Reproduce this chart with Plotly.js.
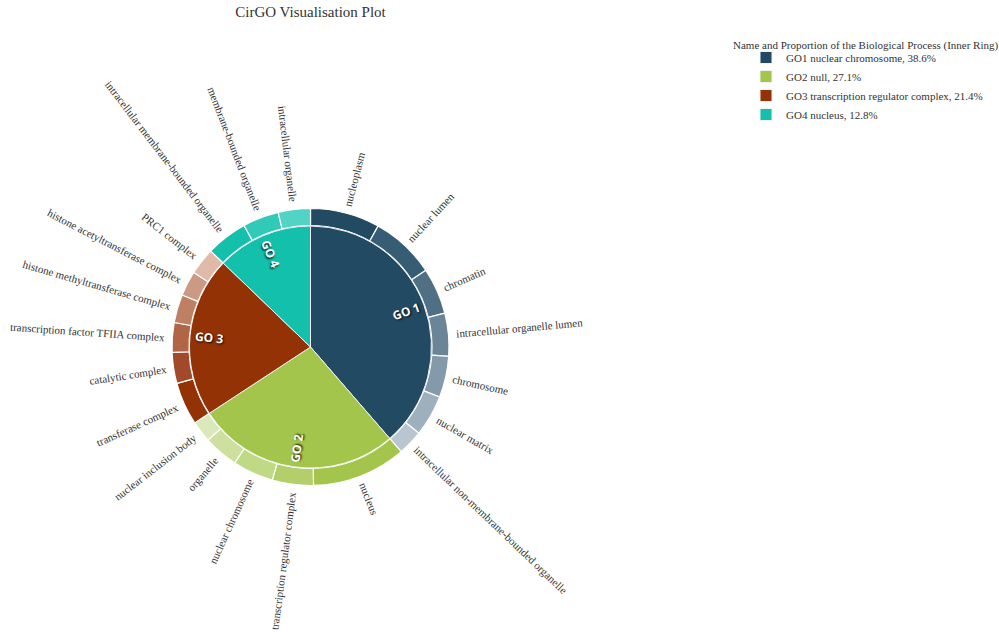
<!DOCTYPE html>
<html><head><meta charset="utf-8">
<script src="https://cdn.plot.ly/plotly-3.0.1.min.js"></script>
<style>html,body{margin:0;padding:0;background:#fff}#chart{width:999px;height:632px}</style>
</head><body><div id="chart"></div>
<script>
// ---------- data ----------
const goIds = ['GO 1', 'GO 2', 'GO 3', 'GO 4'];
const goKeys = ['GO1', 'GO2', 'GO3', 'GO4'];
const goNames = ['nuclear chromosome', 'null', 'transcription regulator complex', 'nucleus'];
const goPercents = [38.6, 27.1, 21.4, 12.8];

const childLabels = [
  'nucleoplasm', 'nuclear lumen', 'chromatin', 'intracellular organelle lumen', 'chromosome', 'nuclear matrix', 'intracellular non-membrane-bounded organelle',
  'nucleus', 'transcription regulator complex', 'nuclear chromosome', 'organelle', 'nuclear inclusion body',
  'transferase complex', 'catalytic complex', 'transcription factor TFIIA complex', 'histone methyltransferase complex', 'histone acetyltransferase complex', 'PRC1 complex',
  'intracellular membrane-bounded organelle', 'membrane-bounded organelle', 'intracellular organelle'
];
const childValues = [
  8.1, 7.55, 5.4, 5.0, 4.8, 4.8, 2.95,
  11.0, 4.8, 4.75, 4.05, 2.5,
  5.0, 3.6, 3.45, 3.3, 2.9, 3.15,
  4.85, 4.2, 3.75
];

// ---------- styles ----------
const goColors = ['#234a63', '#a3c54b', '#933204', '#13c0ac'];
const childColors = [
  '#234a63', '#365d74', '#4f7084', '#6a8597', '#8499aa', '#9eb0bd', '#b9c6d0',
  '#a3c54b', '#b3cf6c', '#c0d985', '#cde09f', '#dbe8bb',
  '#933204', '#a1492a', '#b06546', '#bf7f62', '#cc9a84', '#dfbaa9',
  '#14c0ac', '#31c9b7', '#52d4c5'
];

const W = 999, H = 632;
const CX = 310.5, CY = 347;     // pie centre (px)
const R_OUT = 138.5, R_IN = 121, R_HOLE = 121.5, R_LABEL = 146, R_GO = 102;

function dom(r) {
  return {
    x: [(CX - r) / W, (CX + r) / W],
    y: [1 - (CY + r) / H, 1 - (CY - r) / H]
  };
}

const legendLabels = goKeys.map((k, i) => `${k} ${goNames[i]}, ${goPercents[i]}%`);

const outer = {
  type: 'pie',
  values: childValues,
  labels: childLabels,
  sort: false,
  direction: 'clockwise',
  rotation: 0,
  hole: R_HOLE / R_OUT,
  domain: dom(R_OUT),
  marker: { colors: childColors, line: { color: '#ffffff', width: 1.2 } },
  textinfo: 'none',
  showlegend: false,
  hoverinfo: 'label+percent'
};

const inner = {
  type: 'pie',
  values: goPercents,
  labels: legendLabels,
  text: goIds,
  textinfo: 'none',
  sort: false,
  direction: 'clockwise',
  rotation: 0,
  domain: dom(R_IN),
  marker: { colors: goColors, line: { color: '#f2f2f2', width: 1 } },
  showlegend: true,
  hoverinfo: 'label'
};

function toPaper(r, deg) {
  const t = deg * Math.PI / 180;
  return { x: (CX + r * Math.sin(t)) / W, y: 1 - (CY - r * Math.cos(t)) / H };
}
function radialAngle(deg) { return deg < 180 ? deg - 90 : deg - 270; }

const annotations = [];

// inner ring labels (GO n), radial
const goTotal = goPercents.reduce((a, b) => a + b, 0);
let gcum = 0;
goPercents.forEach((v, i) => {
  const mid = (gcum + v / 2) / goTotal * 360;
  gcum += v;
  const p = toPaper(R_GO, mid);
  annotations.push({
    xref: 'paper', yref: 'paper', x: p.x, y: p.y,
    xanchor: 'center', yanchor: 'middle',
    text: goIds[i], textangle: radialAngle(mid), showarrow: false,
    font: { family: 'Open Sans, sans-serif', size: 12, color: '#ffffff', weight: 'bold',
            shadow: '1px 1px 2px rgba(0,0,0,0.9)' }
  });
});

// outer ring labels, radial
const cnv = document.createElement('canvas').getContext('2d');
const LABEL_FONT = 11;
cnv.font = LABEL_FONT + "px 'Liberation Serif'";
const total = childValues.reduce((a, b) => a + b, 0);
let cum = 0;
childValues.forEach((v, i) => {
  const mid = (cum + v / 2) / total * 360;
  cum += v;
  const w = cnv.measureText(childLabels[i]).width;
  const p = toPaper(R_LABEL + w / 2, mid);
  annotations.push({
    xref: 'paper', yref: 'paper', x: p.x, y: p.y,
    xanchor: 'center', yanchor: 'middle',
    text: childLabels[i], textangle: radialAngle(mid), showarrow: false,
    font: { family: 'Liberation Serif, serif', size: LABEL_FONT, color: '#333333' }
  });
});

// legend heading
annotations.push({
  xref: 'paper', yref: 'paper',
  x: 731 / W, y: 1 - 45 / H,
  xanchor: 'left', yanchor: 'middle',
  text: 'Name and Proportion of the Biological Process (Inner Ring)',
  showarrow: false,
  font: { family: 'Liberation Serif, serif', size: 11, color: '#333333' }
});

const layout = {
  width: W, height: H,
  margin: { l: 0, r: 0, t: 0, b: 0 },
  paper_bgcolor: '#ffffff',
  font: { family: 'Liberation Serif, serif', color: '#444444' },
  title: {
    text: 'CirGO Visualisation Plot',
    xref: 'container', yref: 'container',
    x: CX / W, y: 1 - 12 / H, xanchor: 'center', yanchor: 'middle',
    font: { family: 'Liberation Serif, serif', size: 15, color: '#333333' }
  },
  showlegend: true,
  legend: {
    x: 746 / W, y: 1 - 43 / H, xanchor: 'left', yanchor: 'top',
    font: { family: 'Liberation Serif, serif', size: 11, color: '#333333' },
    bgcolor: 'rgba(0,0,0,0)', traceorder: 'normal'
  },
  annotations: annotations
};

Plotly.newPlot('chart', [outer, inner], layout, { displayModeBar: false, responsive: false });
</script>
</body></html>
